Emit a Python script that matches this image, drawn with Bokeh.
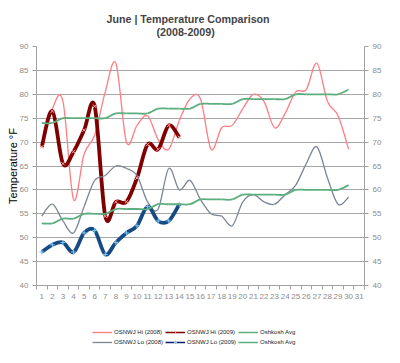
import numpy as np
from bokeh.plotting import figure
from bokeh.layouts import column
from bokeh.models import (Range1d, FixedTicker, LinearAxis, Legend, LegendItem,
                          Title, ColumnDataSource)
from bokeh.embed import file_html
from bokeh.resources import INLINE

# ---- data ----
days = list(range(1, 32))
tick_labels = [str(d) for d in days]
y_ticks = [40, 45, 50, 55, 60, 65, 70, 75, 80, 85, 90]

hi_2008 = [69, 77, 78.5, 58, 67.5, 71.5, 80.5, 86.5, 70, 73.5, 75.5, 70.5, 68.5, 74.5, 79,
           79, 68.5, 73, 73.5, 77, 80, 78.5, 73, 76, 80.5, 81, 86.5, 78.5, 75.5, 68.5]
hi_2009 = [69, 76.5, 65.5, 68, 72.5, 77.5, 54.5, 57.5, 57.5, 62.5, 69.5, 68.5, 73.5, 71]
avg_hi = [74, 74, 75, 75, 75, 75, 75, 76, 76, 76, 76, 77, 77, 77, 77,
          78, 78, 78, 78, 79, 79, 79, 79, 79, 80, 80, 80, 80, 80, 81]
lo_2008 = [54.5, 57, 53.5, 51, 56.5, 62, 63, 65, 64.5, 63, 57.5, 56, 64.5, 60, 62,
           58, 55, 54.5, 52.5, 57.5, 59, 57.5, 57, 59, 61, 65.5, 69, 62.5, 57, 58.5]
lo_2009 = [47, 48.5, 49, 47, 51, 51.5, 46.5, 49, 51, 52.5, 56.5, 53.5, 53.5, 57]
avg_lo = [53, 53, 54, 54, 55, 55, 55, 56, 56, 56, 56, 57, 57, 57, 57,
          58, 58, 58, 58, 59, 59, 59, 59, 59, 60, 60, 60, 60, 60, 61]

names = ["OSNWJ Hi (2008)", "OSNWJ Hi (2009)", "Oshkosh Avg",
         "OSNWJ Lo (2008)", "OSNWJ Lo (2009)", "Oshkosh Avg"]
title_1 = "June | Temperature Comparison"
title_2 = "(2008-2009)"
y_label = "Temperature °F"

FONT = "Liberation Sans"
GRAY_TXT = "#8C8C8C"
AX = "#A0A0A0"
c_hi08, c_hi09, c_avg, c_lo08, c_lo09 = "#FF7C80", "#800000", "#5DAE7E", "#7A8596", "#174A84"
mk_hi09, mk_lo09 = "#FF9C9C", "#7CC8F0"


def smooth_source(ys):
    """Bezier segments through the data points (Catmull-Rom style control points)."""
    xs = days[:len(ys)]
    n = len(ys)
    d = {k: [] for k in ("x0", "y0", "x1", "y1", "cx0", "cy0", "cx1", "cy1")}
    for i in range(n - 1):
        a, b = max(i - 1, 0), min(i + 2, n - 1)
        d["x0"].append(xs[i]); d["y0"].append(ys[i])
        d["x1"].append(xs[i + 1]); d["y1"].append(ys[i + 1])
        d["cx0"].append(xs[i] + (xs[i + 1] - xs[a]) / 6.0)
        d["cy0"].append(ys[i] + (ys[i + 1] - ys[a]) / 6.0)
        d["cx1"].append(xs[i + 1] - (xs[b] - xs[i]) / 6.0)
        d["cy1"].append(ys[i + 1] - (ys[b] - ys[i]) / 6.0)
    return ColumnDataSource(d)


# ---------------- main chart ----------------
p = figure(width=384, height=313, output_backend="svg", toolbar_location=None,
           x_range=Range1d(0.5, 31.5), y_range=Range1d(40, 90),
           min_border_left=36, min_border_right=17, min_border_top=46,
           min_border_bottom=28, outline_line_color=None)

p.xgrid.visible = False
p.ygrid.grid_line_color = "#A6A6A6"
p.ygrid.ticker = FixedTicker(ticks=y_ticks)

xa = p.xaxis[0]
xa.ticker = FixedTicker(ticks=days, minor_ticks=[d - 0.5 for d in days + [32]])
xa.major_label_overrides = {d: t for d, t in zip(days, tick_labels)}
xa.major_tick_line_color = None
xa.major_tick_out = 4
xa.major_tick_in = 0
xa.minor_tick_out = 4
xa.minor_tick_in = 0
xa.minor_tick_line_color = AX
xa.axis_line_color = AX
xa.major_label_standoff = 4
xa.major_label_text_font = FONT
xa.major_label_text_font_size = "8px"
xa.major_label_text_color = GRAY_TXT

ra = LinearAxis()
p.add_layout(ra, "right")
for ax in (p.yaxis[0], ra):
    ax.ticker = FixedTicker(ticks=y_ticks)
    ax.major_tick_out = 4
    ax.major_tick_in = 0
    ax.minor_tick_line_color = None
    ax.major_tick_line_color = AX
    ax.axis_line_color = AX
    ax.major_label_standoff = 4
    ax.major_label_text_font = FONT
    ax.major_label_text_font_size = "8px"
    ax.major_label_text_color = GRAY_TXT

ly = p.yaxis[0]
ly.axis_label = y_label
ly.axis_label_text_font = FONT
ly.axis_label_text_font_size = "11px"
ly.axis_label_text_font_style = "normal"
ly.axis_label_text_color = "#000000"
ly.axis_label_standoff = -2

bz = dict(x0="x0", y0="y0", x1="x1", y1="y1", cx0="cx0", cy0="cy0", cx1="cx1", cy1="cy1")
p.bezier(source=smooth_source(hi_2008), line_color=c_hi08, line_width=1.3, **bz)
p.bezier(source=smooth_source(hi_2009), line_color=c_hi09, line_width=3.8, **bz)
p.scatter(days[:len(hi_2009)], hi_2009, marker="x", size=5, line_color=mk_hi09, line_width=1)
p.bezier(source=smooth_source(avg_hi), line_color=c_avg, line_width=1.8, **bz)
p.bezier(source=smooth_source(lo_2008), line_color=c_lo08, line_width=1.3, **bz)
p.bezier(source=smooth_source(lo_2009), line_color=c_lo09, line_width=3.8, **bz)
p.scatter(days[:len(lo_2009)], lo_2009, marker="cross", size=5, line_color=mk_lo09, line_width=1)
p.bezier(source=smooth_source(avg_lo), line_color=c_avg, line_width=1.8, **bz)

# titles (the one added first sits next to the plot)
p.add_layout(Title(text=title_2, text_font=FONT, text_font_style="bold", text_font_size="10.7px",
                   align="left", offset=120, standoff=17), "above")
p.add_layout(Title(text=title_1, text_font=FONT, text_font_style="bold", text_font_size="10.7px",
                   align="left", offset=70, standoff=-18), "above")

# ---------------- legend strip ----------------
lg = figure(width=384, height=34, output_backend="svg", toolbar_location=None,
            x_range=Range1d(100, 101), y_range=Range1d(100, 101),
            x_axis_location=None, y_axis_location=None,
            min_border=0, outline_line_color=None)
lg.grid.visible = False

l_hi08 = lg.line(days[:len(hi_2008)], hi_2008, line_color=c_hi08, line_width=1.3)
l_hi09 = lg.line(days[:len(hi_2009)], hi_2009, line_color=c_hi09, line_width=1.5)
s_hi09 = lg.scatter(days[:len(hi_2009)], hi_2009, marker="x", size=5, line_color=mk_hi09, line_width=1)
l_avh = lg.line(days[:len(avg_hi)], avg_hi, line_color=c_avg, line_width=1.5)
l_lo08 = lg.line(days[:len(lo_2008)], lo_2008, line_color=c_lo08, line_width=1.3)
l_lo09 = lg.line(days[:len(lo_2009)], lo_2009, line_color="#0B1E6E", line_width=1.5)
s_lo09 = lg.scatter(days[:len(lo_2009)], lo_2009, marker="cross", size=5, line_color=mk_lo09, line_width=1)
l_avl = lg.line(days[:len(avg_lo)], avg_lo, line_color=c_avg, line_width=1.5)

legend = Legend(items=[LegendItem(label=names[0], renderers=[l_hi08]),
                       LegendItem(label=names[1], renderers=[l_hi09, s_hi09]),
                       LegendItem(label=names[2], renderers=[l_avh]),
                       LegendItem(label=names[3], renderers=[l_lo08]),
                       LegendItem(label=names[4], renderers=[l_lo09, s_lo09]),
                       LegendItem(label=names[5], renderers=[l_avl])],
                orientation="horizontal", ncols=3, location=(56, 1),
                glyph_width=20, glyph_height=8, label_height=8,
                label_text_font=FONT, label_text_font_size="6px", label_text_color="#222222",
                label_standoff=2, spacing=2, padding=0, margin=0,
                border_line_color=None, background_fill_alpha=0)
lg.add_layout(legend)

layout = column(p, lg, spacing=0)
open("out.html", "w").write(file_html(layout, INLINE))
